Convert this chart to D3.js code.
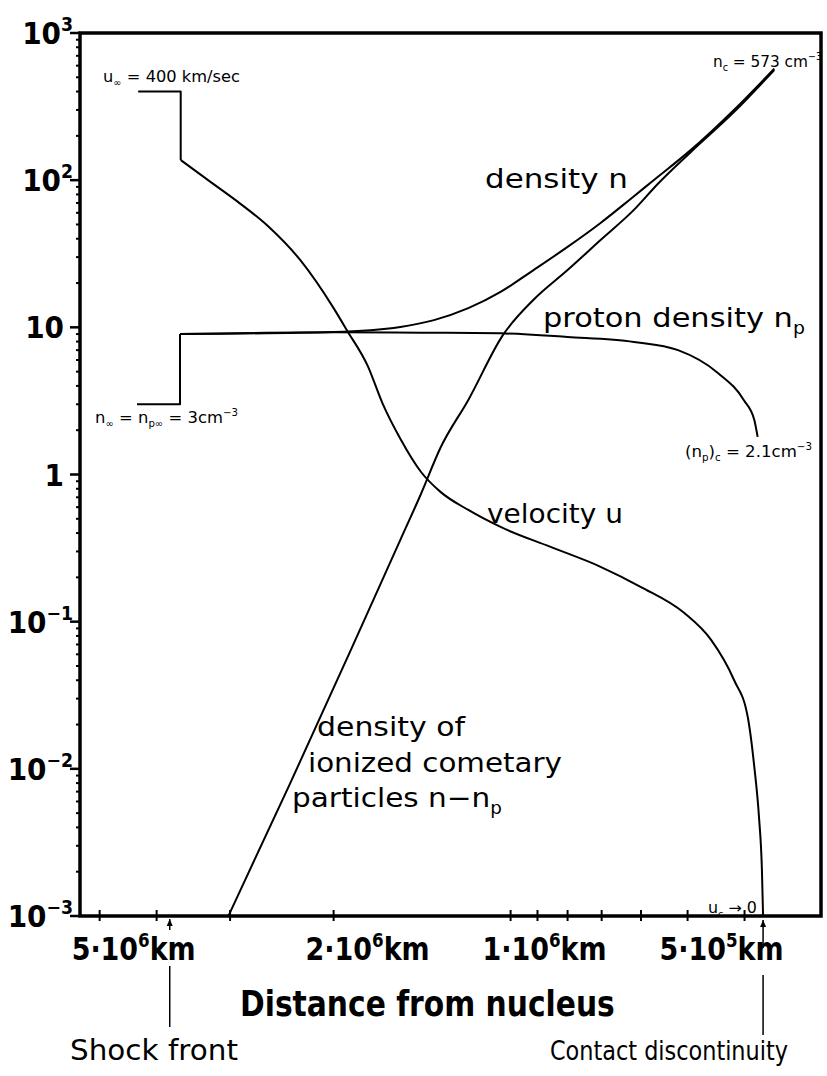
<!DOCTYPE html>
<html>
<head>
<meta charset="utf-8">
<script src="https://cdn.jsdelivr.net/npm/d3@7"></script>
<style>
  body { margin: 0; background: #fff; }
  text { font-family: "DejaVu Sans", sans-serif; fill: #000; }
  .bold { font-family: "DejaVu Sans Condensed", "DejaVu Sans", sans-serif; font-weight: bold; }
</style>
</head>
<body>
<div id="chart"></div>
<script>
// values (distance in km, densities in cm^-3, velocity in km/sec)
const yTickVals = [1e3, 1e2, 1e1, 1, 1e-1, 1e-2, 1e-3];
const yTickBase = ["10", "10", "10", "1", "10", "10", "10"];
const yTickExp  = ["3", "2", "", "", "−1", "−2", "−3"];

const xTickVals = [5e6, 2e6, 1e6, 5e5];
const xTickMant = ["5", "2", "1", "5"];
const xTickExp  = ["6", "6", "6", "5"];
const xMinorVals = [4e6, 3e6, 9e5, 8e5, 7e5, 6e5, 4e5];

const shockR = 3.8e6;
const contactR = 3.72e5;

// velocity u: upstream step, then downstream curve
const velStepR = [4.30e6, 3.64e6, 3.64e6];
const velStepV = [400, 400, 137];
const velR = [3.64e6, 3.27e6, 2.92e6, 2.59e6, 2.28e6, 2.00e6, 1.90e6, 1.75e6, 1.65e6, 1.54e6,
              1.42e6, 1.316e6, 1.18e6, 1.04e6, 8.55e5, 7.03e5, 6.0e5, 5.07e5, 4.56e5, 4.17e5,
              3.95e5, 3.85e5, 3.78e5, 3.737e5, 3.72e5];
const velV = [137, 100, 72, 49, 28.7, 13.5, 9.6, 5.47, 3.02, 1.75,
              1.04, 0.762, 0.574, 0.44, 0.322, 0.236, 0.172, 0.115, 0.0752, 0.0403,
              0.0225, 0.0103, 0.0047, 0.00206, 0.001];

// density n (upstream step shared with proton density)
const denStepR = [4.32e6, 3.65e6, 3.65e6];
const denStepV = [3, 3, 9.0];
const denR = [3.65e6, 2.0e6, 1.54e6, 1.35e6, 1.18e6, 1.04e6, 9.14e5, 8.0e5, 7.03e5,
              6.25e5, 5.71e5, 4.94e5, 4.17e5, 3.56e5];
const denV = [9.0, 9.3, 10.07, 11.2, 13.5, 17.4, 24.5, 35.2, 51.2,
              74.5, 100, 160, 300, 573];

// proton density n_p
const proR = [3.65e6, 2.0e6, 1.42e6, 1.04e6, 8.0e5, 6.17e5, 5.19e5, 4.44e5, 4.01e5, 3.85e5, 3.80e5];
const proV = [9.0, 9.25, 9.2, 9.1, 8.6, 7.96, 7.0, 4.9, 3.2, 2.35, 1.8];

// density of ionized cometary particles n - n_p
const ionR = [3.02e6, 2.37e6, 1.87e6, 1.54e6, 1.42e6, 1.316e6, 1.18e6, 1.03e6, 9.14e5, 8.0e5,
              7.03e5, 6.17e5, 5.62e5, 4.94e5, 4.17e5, 3.56e5];
const ionV = [0.001, 0.0080, 0.064, 0.36, 0.74, 1.52, 3.21, 8.88, 15.4, 24.5,
              39.2, 62.8, 94.2, 155, 290, 561];

const W = 827, H = 1076;
const svg = d3.select("#chart").append("svg")
    .attr("width", W).attr("height", H)
    .style("background", "#fff");

const plotLeft = 80, plotRight = 821, plotTop = 33, plotBottom = 916;

let x = d3.scaleLog().domain([5.40e6, 2.965e5]).range([plotLeft, plotRight]);
let y = d3.scaleLog().domain([1e-3, 1e3]).range([plotBottom, plotTop]);

// text with super/subscripts; optional horizontal stretch to a target width
function rich(x0, y0, parts, size, opts) {
  opts = opts || {};
  const g = svg.append("g").attr("transform", `translate(${x0},${y0})`);
  const t = g.append("text")
      .attr("font-size", size)
      .attr("text-anchor", opts.anchor || "start");
  if (opts.bold) t.attr("class", "bold");
  let shift = 0;
  parts.forEach(p => {
    const want = p.sup ? -size * 0.42 : p.sub ? size * 0.25 : 0;
    const ts = t.append("tspan").attr("dy", want - shift).text(p.t);
    if (p.sup || p.sub) ts.attr("font-size", size * 0.62);
    shift = want;
  });
  if (opts.width) {
    const w = t.node().getComputedTextLength();
    g.attr("transform", `translate(${x0},${y0}) scale(${opts.width / w},1)`);
  }
  return g;
}

// frame
svg.append("rect")
    .attr("x", plotLeft).attr("y", plotTop)
    .attr("width", plotRight - plotLeft).attr("height", plotBottom - plotTop)
    .attr("fill", "none").attr("stroke", "#000").attr("stroke-width", 3.5);

// y axis ticks (log minor ticks)
let minorY = [];
for (let e = -3; e < 3; e++) for (let k = 2; k <= 9; k++) minorY.push(k * Math.pow(10, e));
svg.append("g").selectAll("line").data(minorY).enter().append("line")
    .attr("x1", plotLeft - 4).attr("x2", plotLeft + 1)
    .attr("y1", d => y(d)).attr("y2", d => y(d))
    .attr("stroke", "#000").attr("stroke-width", 2);
svg.append("g").selectAll("line").data(yTickVals).enter().append("line")
    .attr("x1", plotLeft - 10).attr("x2", plotLeft)
    .attr("y1", d => y(d)).attr("y2", d => y(d))
    .attr("stroke", "#000").attr("stroke-width", 2.5);

yTickVals.forEach((v, i) => {
  const parts = [{t: yTickBase[i]}];
  if (yTickExp[i]) parts.push({t: yTickExp[i], sup: true});
  rich(yTickExp[i] ? 73 : 64, y(v) + 11, parts, 31, {bold: true, anchor: "end"});
});

// x axis ticks
svg.append("g").selectAll("line").data(xTickVals.concat(xMinorVals)).enter().append("line")
    .attr("x1", d => x(d)).attr("x2", d => x(d))
    .attr("y1", plotBottom - 6).attr("y2", plotBottom + 5)
    .attr("stroke", "#000").attr("stroke-width", 2);

xTickVals.forEach((v, i) => {
  rich(x(v) - 28, 960, [{t: xTickMant[i] + "·10"}, {t: xTickExp[i], sup: true}, {t: "km"}],
       32, {bold: true, width: 124});
});

rich(240, 1016, [{t: "Distance from nucleus"}], 36, {bold: true, width: 375});

// shock front and contact discontinuity markers
function marker(r, y1, y2, y3, y4) {
  const px = x(r);
  svg.append("line").attr("x1", px).attr("x2", px).attr("y1", y1).attr("y2", y2)
      .attr("stroke", "#000").attr("stroke-width", 1.5);
  svg.append("path")
      .attr("d", `M${px - 3},${y1 + 7}L${px},${y1}L${px + 3},${y1 + 7}Z`)
      .attr("fill", "#000");
  svg.append("line").attr("x1", px).attr("x2", px).attr("y1", y3).attr("y2", y4)
      .attr("stroke", "#000").attr("stroke-width", 1.5);
}
marker(shockR, 919, 930, 966, 1027);
marker(contactR, 920, 948, 975, 1035);

rich(70, 1060, [{t: "Shock front"}], 28, {width: 168});
rich(550, 1060, [{t: "Contact discontinuity"}], 26, {width: 238});

// curves
const smooth = d3.line().x(d => x(d[0])).y(d => y(d[1])).curve(d3.curveMonotoneX);
const straight = d3.line().x(d => x(d[0])).y(d => y(d[1]));
const zip = (a, b) => a.map((v, i) => [v, b[i]]);

function draw(gen, pts) {
  svg.append("path").attr("d", gen(pts))
      .attr("fill", "none").attr("stroke", "#000").attr("stroke-width", 2)
      .attr("stroke-linejoin", "round");
}
draw(straight, zip(velStepR, velStepV));
draw(smooth, zip(velR, velV));
draw(straight, zip(denStepR, denStepV));
draw(smooth, zip(denR, denV));
draw(smooth, zip(proR, proV));
draw(smooth, zip(ionR, ionV));

// curve labels
rich(485, 188, [{t: "density n"}], 27, {width: 143});
rich(543, 327, [{t: "proton density n"}, {t: "p", sub: true}], 27, {width: 262});
rich(487, 523, [{t: "velocity u"}], 27, {width: 136});
rich(317, 736, [{t: "density of"}], 27, {width: 148});
rich(308, 772, [{t: "ionized cometary"}], 27, {width: 254});
rich(292, 807, [{t: "particles n−n"}, {t: "p", sub: true}], 27, {width: 210});

// end-point annotations
rich(103, 82, [{t: "u"}, {t: "∞", sub: true}, {t: " = 400 km/sec"}], 16, {width: 137});
rich(713, 67, [{t: "n"}, {t: "c", sub: true}, {t: " = 573 cm"}, {t: "−3", sup: true}], 16, {width: 109});
rich(95, 423, [{t: "n"}, {t: "∞", sub: true}, {t: " = n"}, {t: "p∞", sub: true},
               {t: " = 3cm"}, {t: "−3", sup: true}], 16, {width: 143});
rich(685, 457, [{t: "(n"}, {t: "p", sub: true}, {t: ")"}, {t: "c", sub: true},
                {t: " = 2.1cm"}, {t: "−3", sup: true}], 16, {width: 127});
rich(708, 913, [{t: "u"}, {t: "c", sub: true}, {t: " → 0"}], 15, {width: 49});
</script>
</body>
</html>
